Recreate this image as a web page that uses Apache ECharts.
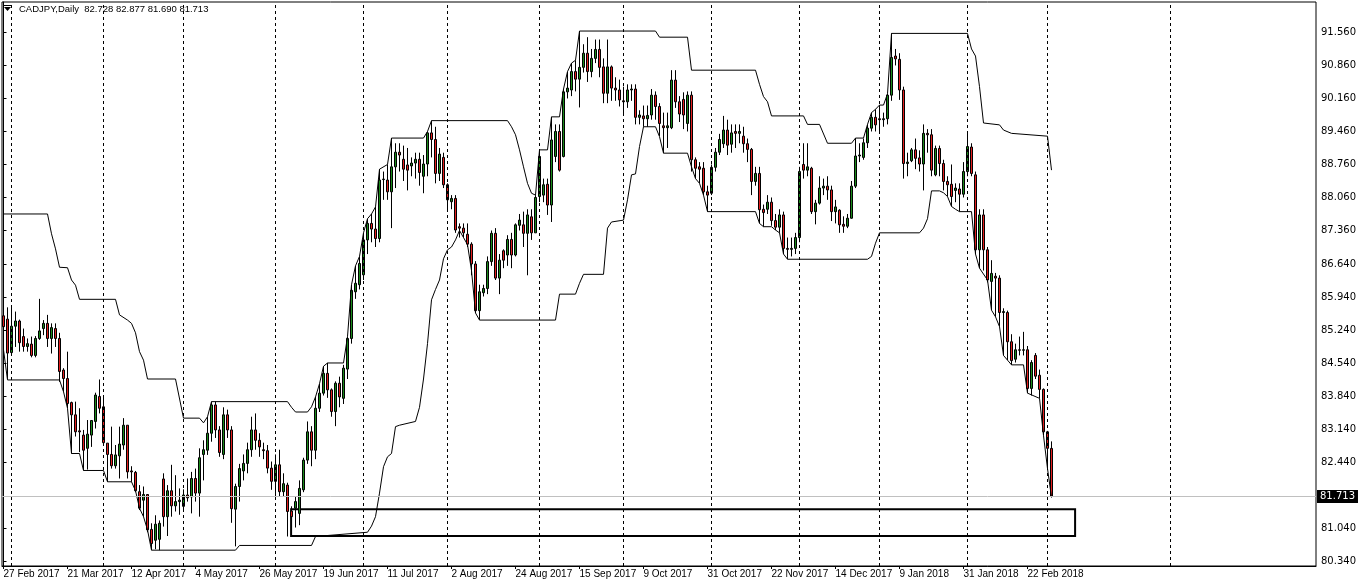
<!DOCTYPE html>
<html><head><meta charset="utf-8">
<script src="https://cdn.jsdelivr.net/npm/echarts@6/dist/echarts.min.js"></script>
<style>html,body{margin:0;padding:0;background:#fff}#c{width:1362px;height:585px}</style>
</head><body><div id="c"></div>
<script>
// ---- data ----
const dateLabels = ['27 Feb 2017','21 Mar 2017','12 Apr 2017','4 May 2017','26 May 2017','19 Jun 2017','11 Jul 2017','2 Aug 2017','24 Aug 2017','15 Sep 2017','9 Oct 2017','31 Oct 2017','22 Nov 2017','14 Dec 2017','9 Jan 2018','31 Jan 2018','22 Feb 2018'];
const labelBars = [0,16,32,48,64,80,96,112,128,144,160,176,192,208,224,240,256];
const priceTicks = [91.56,90.86,90.16,89.46,88.76,88.06,87.36,86.64,85.94,85.24,84.54,83.84,83.14,82.44,81.04,80.34];
const monthSeparators = [2,25,45,68,90,111,134,155,177,199,219,241,261,291.7];
const bidPrice = 81.713;
const headerText = 'CADJPY,Daily  82.728 82.877 81.690 81.713';
const zoneBars = [71.9, 267.9];
const zonePrices = [81.44, 80.87];

const open = [
85.54,85.47,84.76,85.32,85.43,85.10,84.89,84.94,84.70,85.06,
85.27,85.38,85.06,85.27,85.06,84.39,84.21,83.70,83.44,83.10,
83.01,82.73,83.01,83.30,83.83,83.61,82.84,82.60,82.36,82.57,
82.80,83.22,82.25,82.22,81.81,81.63,81.75,81.01,80.78,80.80,
82.08,81.28,81.83,81.51,81.60,81.50,81.74,81.70,82.09,81.78,
82.60,82.69,83.05,83.65,83.12,82.60,83.44,83.12,81.44,81.92,
82.25,82.41,82.70,83.12,82.90,82.70,82.68,82.31,82.03,82.38,
81.81,81.95,81.40,81.46,81.35,81.85,82.48,83.08,82.69,83.58,
83.90,84.32,83.97,83.51,84.11,83.79,84.41,85.06,86.05,86.20,
86.41,87.15,87.50,87.38,87.18,88.43,88.42,88.17,88.70,89.01,
88.86,88.74,88.72,88.78,88.86,88.50,88.76,89.42,89.28,88.56,
88.90,88.32,87.96,88.03,87.43,87.40,87.27,87.06,86.64,85.65,
86.03,86.12,86.69,87.29,86.34,86.92,86.83,87.16,86.83,87.46,
87.47,87.29,87.64,87.30,88.07,88.10,88.33,87.89,88.92,89.45,
88.92,90.29,90.33,90.72,90.56,90.81,91.11,90.72,91.00,91.19,
90.82,90.26,90.82,90.37,90.33,90.10,90.08,90.33,90.35,89.75,
89.78,89.72,89.80,90.22,89.98,89.57,89.53,89.53,90.54,90.08,
90.13,89.62,90.22,88.85,88.70,88.67,88.17,88.14,88.69,89.01,
89.19,89.48,89.18,89.45,89.41,89.35,89.19,89.07,88.39,88.56,
87.80,87.80,87.95,87.56,87.42,87.68,86.97,86.95,86.97,87.20,
88.75,88.63,88.67,87.75,87.93,88.25,88.29,88.21,87.75,87.78,
87.48,87.44,87.61,88.29,88.93,88.90,89.21,89.52,89.75,89.72,
89.70,89.72,90.22,91.05,90.98,90.33,88.77,88.83,89.06,88.89,
88.76,89.41,89.38,88.53,89.09,88.77,88.39,88.33,88.20,88.23,
88.12,88.60,89.12,88.53,86.94,87.68,86.94,86.27,86.38,86.34,
85.61,85.61,84.99,84.62,84.82,84.81,84.82,84.00,84.70,84.28,
83.98,83.08,82.728];
const close = [
85.31,84.75,85.32,85.43,84.97,84.89,84.95,84.70,85.06,85.22,
85.38,85.06,85.29,85.06,84.36,84.21,83.68,83.44,83.08,83.08,
82.69,83.03,83.32,83.86,83.58,82.85,82.60,82.36,82.59,82.82,
83.22,82.23,82.23,81.83,81.46,81.75,81.00,80.71,81.12,81.14,
81.28,81.83,81.51,81.60,81.63,81.74,81.68,82.09,81.78,82.53,
82.70,83.05,83.65,83.12,82.64,83.44,83.12,81.45,81.92,82.30,
82.41,82.70,83.12,82.90,82.76,82.68,82.31,82.03,82.38,81.81,
81.98,81.39,81.28,81.60,81.88,82.48,83.08,82.69,83.58,83.90,
84.32,83.97,83.51,84.11,83.82,84.43,85.06,86.08,86.23,86.65,
87.15,87.50,87.38,87.18,88.42,88.44,88.17,88.70,89.01,88.95,
88.65,88.63,88.78,88.86,88.58,88.76,89.42,89.28,88.56,88.97,
88.32,88.00,88.03,87.36,87.40,87.30,87.06,86.64,85.65,86.05,
86.12,86.69,87.29,86.34,86.72,86.72,87.16,86.83,87.47,87.57,
87.29,87.68,87.30,88.05,88.92,88.32,87.89,89.27,89.45,88.63,
90.29,90.37,90.72,90.56,90.81,91.11,90.72,91.00,91.19,90.81,
90.26,90.82,90.37,90.33,90.12,90.08,90.33,90.35,89.75,89.80,
89.72,89.79,90.22,89.98,89.62,89.53,89.57,90.54,90.08,89.82,
89.80,90.22,88.85,88.67,88.65,88.17,88.10,88.69,89.01,89.28,
89.48,89.16,89.42,89.41,89.45,89.19,89.07,88.39,88.56,87.79,
87.73,87.95,87.56,87.42,87.68,86.97,86.95,86.97,87.20,88.60,
88.63,88.70,87.75,87.93,88.25,88.29,88.21,87.75,87.85,87.47,
87.44,87.61,88.29,88.93,88.95,89.21,89.52,89.75,89.59,89.70,
89.72,90.22,91.02,90.99,90.33,88.77,88.80,89.06,88.88,88.76,
89.41,89.38,88.63,89.09,88.77,88.39,88.32,88.07,88.25,88.12,
88.60,89.13,88.56,86.94,87.68,86.94,86.30,86.44,86.34,85.61,
85.63,84.99,84.59,84.82,84.81,84.82,84.00,84.55,84.26,83.98,
83.08,82.73,81.713];
const low = [
85.15,84.20,84.70,84.88,84.78,84.78,84.78,84.66,84.66,85.03,
85.13,84.88,84.74,84.88,84.14,83.93,83.58,82.62,82.98,82.65,
82.26,82.28,82.76,83.15,83.47,82.80,82.02,82.30,82.30,82.09,
82.70,82.09,82.02,81.80,81.42,81.28,80.95,80.57,80.59,80.57,
81.07,80.87,81.28,81.39,81.32,81.40,81.60,81.35,81.60,81.28,
82.05,82.59,82.87,82.95,82.55,82.50,82.95,81.15,80.65,81.60,
82.05,82.20,82.55,82.70,82.55,82.50,82.20,81.85,81.70,81.70,
81.70,80.86,81.00,81.05,81.10,81.80,82.40,82.35,82.50,83.50,
83.85,83.80,83.40,83.20,83.60,83.67,84.20,84.95,85.90,86.10,
86.30,86.85,87.10,87.00,87.10,88.00,88.00,87.40,88.25,88.60,
88.40,88.20,88.50,88.45,88.30,88.14,88.50,88.90,88.35,88.40,
88.25,87.80,87.80,87.30,87.20,87.20,87.00,86.40,85.60,85.45,
85.95,86.00,86.60,86.30,86.00,86.55,86.60,86.55,86.80,87.35,
87.00,86.40,87.15,87.30,87.95,87.95,87.68,87.53,88.80,88.60,
88.90,90.15,90.20,90.30,89.96,90.70,90.50,90.60,90.90,90.60,
90.05,90.05,90.10,90.10,89.98,89.80,89.95,90.10,89.60,89.60,
89.55,89.55,89.70,89.70,89.35,88.99,89.10,89.50,89.95,89.65,
89.50,89.45,88.60,88.45,88.35,88.10,87.75,88.10,88.60,88.95,
89.10,88.95,89.00,89.10,89.20,89.00,88.80,88.10,88.30,87.50,
87.43,87.70,87.45,87.36,87.30,86.85,86.74,86.80,86.85,87.10,
88.45,88.50,87.70,87.48,87.90,88.10,88.00,87.55,87.50,87.30,
87.30,87.40,87.60,88.25,88.80,88.85,89.10,89.45,89.45,89.45,
89.55,89.60,90.10,90.85,90.12,88.45,88.50,88.80,88.65,88.60,
88.20,89.00,88.50,88.50,88.50,88.20,88.07,87.86,87.95,87.75,
88.05,88.50,88.50,86.85,86.55,86.50,86.25,85.66,85.52,85.31,
84.70,84.60,84.50,84.55,84.70,84.70,83.90,83.85,84.20,83.79,
83.00,82.30,81.69];
const high = [
85.77,85.72,85.71,85.63,85.46,85.27,85.06,85.10,85.11,85.90,
85.45,85.56,85.38,85.38,85.18,84.43,84.78,83.72,83.72,83.58,
83.12,83.33,83.33,83.91,84.19,83.83,82.84,83.19,82.80,83.19,
83.37,83.22,82.35,82.25,81.95,81.92,81.75,81.14,81.31,81.20,
82.20,81.95,82.38,82.16,81.88,81.86,82.09,82.23,82.30,82.73,
82.90,83.40,83.72,83.72,83.20,83.60,83.55,83.20,81.98,82.40,
82.60,82.85,83.40,83.47,83.05,82.85,82.80,82.45,82.60,82.70,
82.20,82.00,81.50,81.70,82.05,82.53,83.30,83.20,83.82,84.10,
84.47,84.54,84.00,84.15,84.25,84.50,85.10,86.20,86.60,86.80,
87.30,87.60,87.70,87.85,88.65,88.60,88.75,89.31,89.20,89.20,
89.15,89.10,88.90,89.00,89.00,88.95,89.45,89.68,89.55,89.10,
89.00,88.35,88.10,88.10,87.50,87.50,87.50,87.10,86.70,86.20,
86.20,86.80,87.35,87.40,86.85,86.95,87.25,87.30,87.50,87.70,
87.75,87.80,87.80,88.10,89.06,88.45,88.45,89.76,89.60,89.60,
90.35,90.72,90.90,90.96,91.58,91.30,91.45,91.20,91.40,91.40,
91.00,91.40,90.85,90.60,90.55,90.40,90.45,90.45,90.45,89.90,
90.00,90.00,90.35,90.30,90.05,89.85,89.85,90.75,90.75,90.20,
90.28,90.30,90.30,88.90,88.80,88.80,88.30,88.75,89.10,89.40,
89.78,89.70,89.60,89.60,89.60,89.55,89.30,89.10,88.70,88.70,
87.90,88.10,88.05,87.70,87.80,87.75,87.20,87.20,87.30,88.70,
89.20,89.20,88.70,88.00,88.50,88.45,88.50,88.30,88.00,87.80,
87.65,87.70,88.40,89.31,89.20,89.30,89.60,89.85,89.92,90.01,
89.85,90.25,91.53,91.20,91.11,90.40,89.00,89.10,89.30,89.05,
89.60,89.50,89.50,89.15,89.15,88.85,88.50,88.75,88.35,88.35,
88.80,89.40,89.20,88.60,87.80,87.80,87.00,86.72,86.45,86.40,
85.70,85.65,85.15,84.95,85.10,85.20,84.90,84.60,84.75,84.40,
84.00,83.10,82.877];

// channel lines: [bar, price] vertices
const upperBand = [[0,87.70],[11,87.70],[12,87.28],[13,86.96],[14,86.57],[16,86.56],[17,86.30],[18,86.19],[19,85.89],[28,85.89],[29,85.56],[31,85.45],[32,85.38],[33,85.18],[34,84.78],[35,84.60],[36,84.20],[43,84.20],[45,83.37],[49,83.37],[50,83.27],[51,83.40],[52,83.72],[71,83.72],[72,83.60],[73,83.50],[76,83.50],[77,83.61],[78,83.82],[79,84.10],[80,84.47],[81,84.54],[85,84.54],[86,85.10],[87,86.20],[88,86.60],[89,86.80],[90,87.30],[91,87.60],[92,87.70],[93,87.85],[94,88.65],[96,88.75],[97,89.31],[105,89.31],[106,89.45],[107,89.68],[126,89.68],[127,89.55],[128,89.38],[129,89.06],[130,88.70],[131,88.35],[132,88.14],[133,88.10],[134,89.06],[136,89.06],[137,89.76],[139,89.76],[140,90.35],[141,90.72],[142,90.90],[143,90.96],[144,91.58],[163,91.58],[164,91.45],[171,91.45],[172,90.75],[188,90.75],[189,90.45],[190,90.19],[191,90.08],[192,89.78],[200,89.78],[201,89.60],[204,89.60],[206,89.20],[212,89.20],[213,89.31],[215,89.31],[216,89.60],[217,89.85],[218,89.92],[219,90.01],[220,90.01],[221,90.25],[222,91.53],[241,91.53],[242,91.20],[243,91.05],[244,90.40],[245,89.63],[249,89.59],[250,89.48],[252,89.41],[261,89.35],[262,88.63]];
const lowerBand = [[0,84.82],[1,84.18],[14,84.18],[15,83.93],[16,83.58],[17,82.62],[19,82.62],[20,82.26],[25,82.26],[26,82.02],[32,82.02],[33,81.83],[34,81.46],[35,81.28],[36,81.00],[37,80.57],[58,80.57],[59,80.67],[77,80.67],[78,80.86],[91,80.95],[92,81.08],[93,81.28],[94,81.78],[95,82.34],[96,82.55],[97,82.62],[98,83.19],[99,83.22],[103,83.30],[104,83.60],[105,84.20],[106,84.95],[107,85.88],[108,86.10],[109,86.30],[110,86.75],[111,86.94],[112,87.00],[113,87.15],[114,87.35],[115,87.20],[116,87.05],[117,86.50],[118,85.60],[119,85.45],[138,85.45],[139,86.00],[143,86.00],[144,86.23],[145,86.42],[150,86.42],[151,87.40],[152,87.53],[155,87.57],[156,88.00],[157,88.53],[158,88.55],[159,89.13],[160,89.55],[163,89.55],[164,89.34],[165,88.99],[171,88.99],[172,88.70],[173,88.45],[174,88.35],[175,88.10],[176,87.75],[188,87.75],[189,87.50],[190,87.43],[192,87.43],[193,87.36],[194,87.30],[195,86.85],[196,86.74],[216,86.74],[217,86.80],[218,87.08],[219,87.30],[229,87.30],[230,87.40],[231,87.60],[232,88.19],[234,88.19],[235,88.15],[236,88.07],[237,87.86],[238,87.80],[239,87.75],[242,87.75],[243,86.85],[244,86.55],[246,86.30],[247,85.66],[248,85.52],[249,85.31],[250,84.70],[251,84.60],[252,84.50],[255,84.50],[256,83.90],[259,83.79],[260,83.00],[261,82.30],[262,81.69]];

// ---- chart ----
const candles = open.map((o, i) => [i, o, close[i], low[i], high[i]]);
const labelMap = {};
labelBars.forEach((b, k) => { labelMap[b] = dateLabels[k]; });
const FONT = 'Liberation Sans';

const chart = echarts.init(document.getElementById('c'), null, {renderer: 'canvas'});
chart.setOption({
  animation: false,
  backgroundColor: '#ffffff',
  grid: {left: 2, right: 46, top: 2, bottom: 19, show: true, borderColor: '#000', borderWidth: 1, backgroundColor: 'transparent'},
  xAxis: {
    type: 'value', min: -0.375, max: 328.125,
    axisLine: {show: true, lineStyle: {color: '#000', width: 1}},
    splitLine: {show: false},
    axisTick: {show: true, customValues: labelBars, length: 3, lineStyle: {color: '#000'}},
    axisLabel: {
      customValues: labelBars, margin: 3, color: '#000', fontFamily: FONT, fontSize: 10,
      align: 'left', formatter: v => labelMap[Math.round(v)] || ''
    }
  },
  yAxis: {
    type: 'value', position: 'right', min: 80.234, max: 92.196, scale: true,
    axisLine: {show: true, lineStyle: {color: '#000', width: 1}},
    splitLine: {show: false},
    axisTick: {show: true, customValues: priceTicks, length: 3, inside: false, lineStyle: {color: '#000'}},
    axisLabel: {customValues: priceTicks, margin: 5, color: '#000', fontFamily: 'DejaVu Sans', fontSize: 10,
      formatter: v => v.toFixed(3)}
  },
  graphic: [
    {type: 'line', shape: {x1: 4, y1: 5.5, x2: 11, y2: 5.5}, style: {stroke: '#000', lineWidth: 1}, silent: true},
    {type: 'polygon', shape: {points: [[4, 7], [11, 7], [7.5, 11]]}, style: {fill: '#000'}, silent: true},
    {type: 'text', x: 19, y: 4, style: {text: headerText, font: '9.5px "' + FONT + '"', fill: '#000'}, silent: true}
  ],
  series: [
    {
      type: 'line', name: 'separators', data: [], silent: true, z: 1,
      markLine: {
        silent: true, symbol: ['none', 'none'], animation: false,
        lineStyle: {color: '#000', width: 1, type: [3, 3]},
        label: {show: false},
        data: monthSeparators.map(b => ({xAxis: b}))
      }
    },
    {
      type: 'line', name: 'bid', data: [], silent: true, z: 1,
      markLine: {
        silent: true, symbol: ['none', 'none'], animation: false,
        lineStyle: {color: '#c0c0c0', width: 1, type: 'solid'},
        label: {show: true, position: 'end', distance: 1, formatter: bidPrice.toFixed(3),
          color: '#fff', backgroundColor: '#000', padding: [2, 3, 1, 3], fontFamily: 'DejaVu Sans', fontSize: 10},
        data: [{yAxis: bidPrice}]
      }
    },
    {
      type: 'candlestick', name: 'CADJPY', data: candles, barWidth: 3, z: 3,
      itemStyle: {color: '#1a8a1a', color0: '#e31e1e', borderColor: '#000', borderColor0: '#000', borderWidth: 1},
      silent: true
    },
    {
      type: 'line', name: 'upper', data: upperBand, showSymbol: false, symbol: 'none', z: 4,
      lineStyle: {color: '#000', width: 1}, silent: true
    },
    {
      type: 'line', name: 'lower', data: lowerBand, showSymbol: false, symbol: 'none', z: 4,
      lineStyle: {color: '#000', width: 1}, silent: true,
      markArea: {
        silent: true,
        itemStyle: {color: 'rgba(0,0,0,0)', borderColor: '#000', borderWidth: 2},
        data: [[{coord: [zoneBars[0], zonePrices[0]]}, {coord: [zoneBars[1], zonePrices[1]]}]]
      }
    }
  ]
});
</script>
</body></html>
